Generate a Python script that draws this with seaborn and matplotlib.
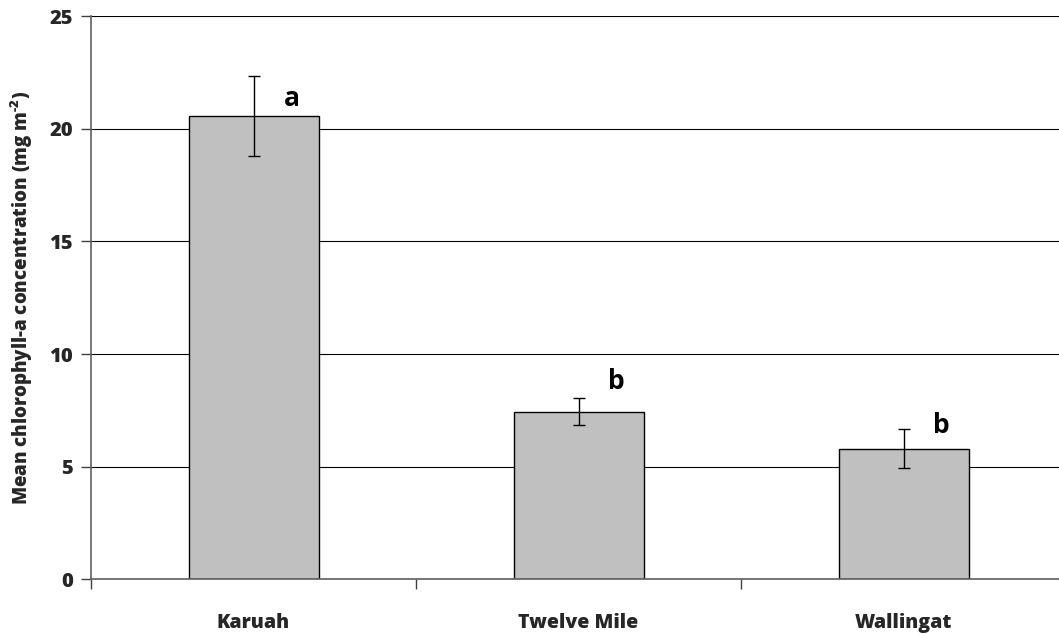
import matplotlib
matplotlib.use("Agg")
import matplotlib.pyplot as plt
import seaborn as sns
import pandas as pd
import numpy as np

sites = ["Karuah", "Twelve Mile", "Wallingat"]
mean_chla = [20.58, 7.44, 5.80]
se_chla = [1.77, 0.59, 0.87]
letters = ["a", "b", "b"]
letter_y = [21.36, 8.77, 6.85]
yticks = [0, 5, 10, 15, 20, 25]

sns.set_theme(style="white")
plt.rcParams["font.family"] = ["Open Sans", "DejaVu Sans"]
plt.rcParams["font.weight"] = "heavy"
plt.rcParams["mathtext.fontset"] = "custom"
plt.rcParams["mathtext.rm"] = "Open Sans:heavy"
plt.rcParams["mathtext.bf"] = "Open Sans:heavy"
plt.rcParams["mathtext.default"] = "rm"

W = "heavy"
df = pd.DataFrame({"site": sites, "mean": mean_chla})

fig = plt.figure(figsize=(10.59, 6.34), dpi=100)
ax = fig.add_axes([91 / 1059, (634 - 579.3) / 634, 975 / 1059, 563 / 634])

ax.set_axisbelow(True)
ax.yaxis.grid(True, color="black", linewidth=0.8)

sns.barplot(data=df, x="site", y="mean", ax=ax, color="#C0C0C0",
            saturation=1, width=0.4, edgecolor="black", linewidth=1.0,
            errorbar=None)

xpos = np.arange(len(sites))
ax.errorbar(xpos, mean_chla, yerr=se_chla, fmt="none", ecolor="black",
            elinewidth=1.0, capsize=4.5, capthick=1.0)

for xi, lab, ly in zip(xpos, letters, letter_y):
    ax.text(xi + 0.117, ly, lab, ha="center", va="center", fontsize=19,
            fontweight="bold", color="black")

ax.set_xlim(-0.5, 2.5)
ax.set_ylim(0, 25)
ax.set_yticks(yticks)
ax.set_yticklabels([str(t) for t in yticks], fontsize=14.5, fontweight=W)

ax.set_xticks([-0.5, 0.5, 1.5, 2.5])
ax.set_xticklabels([])
ax.set_xticks(xpos, minor=True)
ax.set_xticklabels(sites, minor=True, fontsize=14, fontweight=W)
ax.tick_params(axis="x", which="major", direction="out", length=7, width=1,
               color="#404040", bottom=True)
ax.tick_params(axis="x", which="minor", length=0, pad=24)
ax.tick_params(axis="y", direction="out", length=7, width=1, color="#404040",
               left=True, pad=6)

ax.set_xlabel("")
ax.set_ylabel("Mean chlorophyll-a concentration (mg m$^{\\text{-2}}$)",
              fontsize=13.5, fontweight=W)
ax.yaxis.set_label_coords(-56 / 975, 0.5)

for s in ["top", "right"]:
    ax.spines[s].set_visible(False)
for s in ["left", "bottom"]:
    ax.spines[s].set_color("#606060")
    ax.spines[s].set_linewidth(1.2)

fig.savefig("out.png", dpi=100)
